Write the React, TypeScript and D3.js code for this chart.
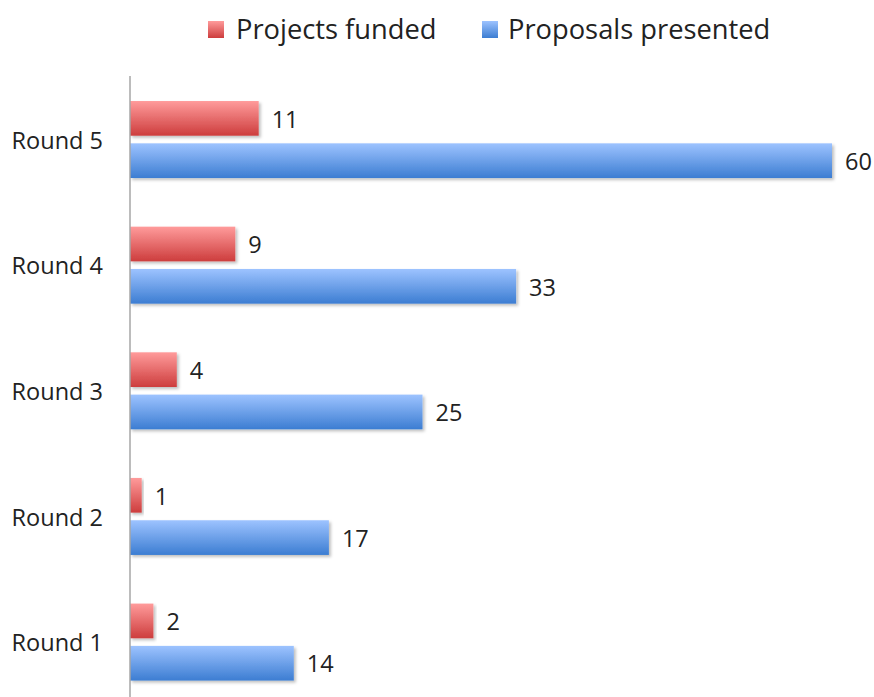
import React from "react";
import * as d3 from "d3";

const rounds = ["Round 5", "Round 4", "Round 3", "Round 2", "Round 1"];
const projectsFunded = [11, 9, 4, 1, 2];
const proposalsPresented = [60, 33, 25, 17, 14];
const seriesNames = ["Projects funded", "Proposals presented"];

const W = 874;
const H = 697;
const FONT = "'Open Sans', 'Noto Sans', sans-serif";

export default function App() {
  const x = d3.scaleLinear().domain([0, 60]).range([130, 832]);
  const y = d3.scaleBand().domain(rounds).range([76.7, 704.9]);
  const bw = y.bandwidth();
  const sub = d3
    .scaleBand()
    .domain(seriesNames)
    .range([bw / 2 - 38.5, bw / 2 + 38.5])
    .paddingInner(0.18);

  const series = [
    { name: seriesNames[0], values: projectsFunded, grad: "gRed" },
    { name: seriesNames[1], values: proposalsPresented, grad: "gBlue" },
  ];

  return (
    <svg
      width={W}
      height={H}
      style={{ position: "absolute", left: 0, top: 0, background: "#fff" }}
      fontFamily={FONT}
    >
      <defs>
        <linearGradient id="gRed" x1="0" y1="0" x2="0" y2="1">
          <stop offset="0" stopColor="#ff9b9b" />
          <stop offset="1" stopColor="#cd3d3d" />
        </linearGradient>
        <linearGradient id="gBlue" x1="0" y1="0" x2="0" y2="1">
          <stop offset="0" stopColor="#9dc3ff" />
          <stop offset="1" stopColor="#3c7dd2" />
        </linearGradient>
        <filter id="shadow" x="-5%" y="-20%" width="120%" height="160%">
          <feDropShadow dx="2" dy="2" stdDeviation="1.5" floodColor="#000" floodOpacity="0.25" />
        </filter>
      </defs>

      {/* Legend */}
      <g>
        <rect x={208} y={21} width={16} height={17} fill="url(#gRed)" />
        <text x={236} y={39} fontSize={27.3} fill="#222">
          {seriesNames[0]}
        </text>
        <rect x={482} y={21} width={16} height={17} fill="url(#gBlue)" />
        <text x={508} y={39} fontSize={27.3} fill="#222">
          {seriesNames[1]}
        </text>
      </g>

      {/* Bars */}
      {rounds.map((r, i) => (
        <g key={r} transform={`translate(0,${y(r)})`}>
          {series.map((s) => (
            <g key={s.name}>
              <rect
                x={x(0)}
                y={sub(s.name)}
                width={x(s.values[i]) - x(0)}
                height={sub.bandwidth()}
                fill={`url(#${s.grad})`}
                filter="url(#shadow)"
              />
              <text
                x={x(s.values[i]) + 13}
                y={(sub(s.name) as number) + sub.bandwidth() / 2 + 1}
                dy="0.35em"
                fontSize={23.5}
                fill="#222"
              >
                {s.values[i]}
              </text>
            </g>
          ))}
          <text x={103} y={bw / 2 + 1} dy="0.35em" textAnchor="end" fontSize={23.5} fill="#222">
            {r}
          </text>
        </g>
      ))}

      {/* Axis */}
      <line x1={x(0)} x2={x(0)} y1={76} y2={H} stroke="#a6a6a6" strokeWidth={1.5} />
    </svg>
  );
}
